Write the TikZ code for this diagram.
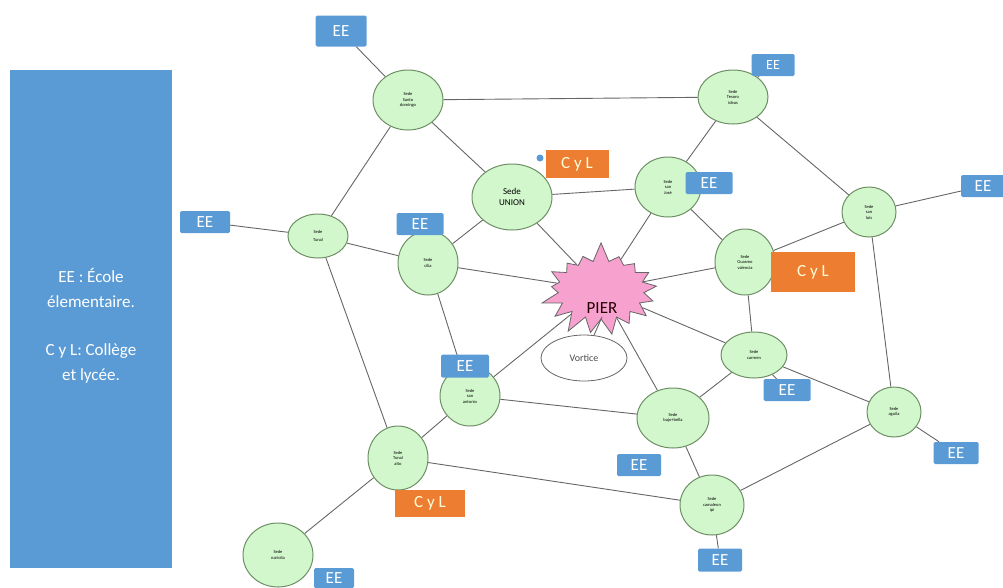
\documentclass[tikz,border=0pt]{standalone}
\usepackage{fontspec}
\setmainfont{Carlito}
\usetikzlibrary{shapes.geometric,shapes.symbols,backgrounds}
\definecolor{eeblue}{HTML}{5B9BD5}
\definecolor{cylor}{HTML}{ED7D31}
\definecolor{sedefill}{HTML}{D2F7CC}
\definecolor{sedeedge}{HTML}{6E8F66}
\definecolor{edgegray}{HTML}{666666}
\definecolor{pierpink}{HTML}{F7A1CF}
\tikzset{
  sede/.style={ellipse, draw=sedeedge, line width=1pt, fill=sedefill, inner sep=0pt,
    align=center, font=\fontsize{4.5}{5.5}\selectfont},
  eebox/.style={rectangle, rounded corners=1.5pt, fill=eeblue, text=white, inner sep=0pt,
    font=\fontsize{17}{17}\selectfont},
  cylbox/.style={rectangle, fill=cylor, text=white!85!yellow, inner sep=0pt,
    font=\fontsize{17}{17}\selectfont},
  link/.style={draw=edgegray, line width=0.9pt},
}
\begin{document}
\begin{tikzpicture}[x=1pt,y=-1pt]
\useasboundingbox (0,0) rectangle (1003,587);
% legend
\node[rectangle, fill=eeblue, minimum width=162pt, minimum height=498pt, inner sep=0pt] (legend) at (91,319) {};
\node[text=white, align=center, font=\fontsize{17}{24.5}\selectfont] (legtxt) at (91,326)
  {EE : École\\élementaire.\\[24pt] C y L: Collège\\et lycée.};
% sedes
\node[sede, minimum width=70pt, minimum height=60pt] (sd) at (408,100) {Sede\\Santo\\domingo};
\node[sede, minimum width=70pt, minimum height=54pt] (te) at (733,97) {Sede\\Tesoro\\ideas};
\node[sede, minimum width=80pt, minimum height=66pt, font=\fontsize{9}{11}\selectfont] (un) at (512,197) {Sede\\UNION};
\node[sede, minimum width=66pt, minimum height=60pt] (sj) at (668,187) {Sede\\san\\José};
\node[sede, minimum width=60pt, minimum height=44pt] (tu) at (318,236) {Sede\\[3pt]Tunal};
\node[sede, minimum width=60pt, minimum height=64pt] (ci) at (428,263) {Sede\\cilia};
\node[sede, minimum width=54pt, minimum height=50pt] (sl) at (869,212) {Sede\\san\\luis};
\node[sede, minimum width=60pt, minimum height=66pt] (gu) at (745,262) {Sede\\Guasmo\\valencia};
\node[sede, minimum width=66pt, minimum height=46pt] (ca) at (754,355) {Sede\\carmen};
\node[sede, minimum width=60pt, minimum height=60pt] (sa) at (470,396) {Sede\\san\\antonio};
\node[sede, minimum width=72pt, minimum height=60pt] (bb) at (673,418) {Sede\\bajo+bella};
\node[sede, minimum width=54pt, minimum height=50pt] (ag) at (894,412) {Sede\\aguila};
\node[sede, minimum width=60pt, minimum height=64pt] (ta) at (398,458) {Sede\\Tunal\\alto};
\node[sede, minimum width=64pt, minimum height=60pt] (cm) at (712,505) {Sede\\camaleon\\ipi};
\node[sede, minimum width=70pt, minimum height=64pt] (na) at (278,555) {Sede\\nariolia};
% PIER
\node[starburst, starburst points=17, starburst point height=20pt, random starburst=7,
  minimum width=126pt, minimum height=98pt, fill=pierpink, draw=edgegray, line width=0.8pt,
  inner sep=0pt] (pier) at (601,290) {};
\node[font=\fontsize{17}{17}\selectfont, text=black!85!red] (piertxt) at (602,308) {PIER};
\node[ellipse, draw=edgegray, fill=white, line width=0.8pt, minimum width=86pt, minimum height=46pt,
  font=\fontsize{10}{10}\selectfont, text=black!70] (vort) at (584,358) {Vortice};
% EE boxes
\node[eebox, minimum width=51pt, minimum height=31pt] (ee1) at (341,31) {EE};
\node[eebox, minimum width=43pt, minimum height=22pt, font=\fontsize{14}{14}\selectfont] (ee2) at (773,65) {EE};
\node[eebox, minimum width=50pt, minimum height=22pt] (ee3) at (205,222) {EE};
\node[eebox, minimum width=47pt, minimum height=22pt] (ee4) at (420,224) {EE};
\node[eebox, minimum width=47pt, minimum height=22pt] (ee5) at (709,183) {EE};
\node[eebox, minimum width=44pt, minimum height=22pt] (ee6) at (983,186) {EE};
\node[eebox, minimum width=48pt, minimum height=23pt] (ee7) at (465,366) {EE};
\node[eebox, minimum width=47pt, minimum height=22pt] (ee8) at (787,390) {EE};
\node[eebox, minimum width=44pt, minimum height=22pt] (ee9) at (639,465) {EE};
\node[eebox, minimum width=45pt, minimum height=22pt] (ee10) at (956,453) {EE};
\node[eebox, minimum width=44pt, minimum height=23pt] (ee11) at (720,560) {EE};
\node[eebox, minimum width=40pt, minimum height=20pt] (ee12) at (334,578) {EE};
% CyL boxes
\node[circle, fill=eeblue, minimum size=7pt, inner sep=0pt] (dot) at (540,158) {};
\node[cylbox, minimum width=63pt, minimum height=28pt] (cyl1) at (577,164) {C y L};
\node[cylbox, minimum width=84pt, minimum height=40pt] (cyl2) at (813,272) {C y L};
\node[cylbox, minimum width=70pt, minimum height=27pt] (cyl3) at (430,503) {C y L};
% edges
\begin{scope}[on background layer]
\path[link] (ee1) -- (sd);
\path[link] (sd) -- (te);
\path[link] (sd) -- (tu);
\path[link] (sd) -- (un);
\path[link] (te) -- (ee2);
\path[link] (te) -- (sj);
\path[link] (te) -- (sl);
\path[link] (un) -- (sj);
\path[link] (un) -- (pier);
\path[link] (un) -- (ci);
\path[link] (sj) -- (pier);
\path[link] (sj) -- (gu);
\path[link] (ee3) -- (tu);
\path[link] (tu) -- (ci);
\path[link] (tu) -- (ta);
\path[link] (ci) -- (pier);
\path[link] (ci) -- (sa);
\path[link] (sl) -- (ee6);
\path[link] (sl) -- (gu);
\path[link] (sl) -- (ag);
\path[link] (gu) -- (pier);
\path[link] (gu) -- (ca);
\path[link] (pier) -- (ca);
\path[link] (pier) -- (bb);
\path[link] (pier) -- (sa);
\path[link] (ca) -- (ag);
\path[link] (ca) -- (bb);
\path[link] (ca) -- (ee8);
\path[link] (sa) -- (bb);
\path[link] (sa) -- (ta);
\path[link] (bb) -- (cm);
\path[link] (ag) -- (ee10);
\path[link] (ag) -- (cm);
\path[link] (ta) -- (cm);
\path[link] (ta) -- (na);
\path[link] (cm) -- (ee11);
\end{scope}
\path[link] (piertxt.south) -- (vort);
\end{tikzpicture}
\end{document}
